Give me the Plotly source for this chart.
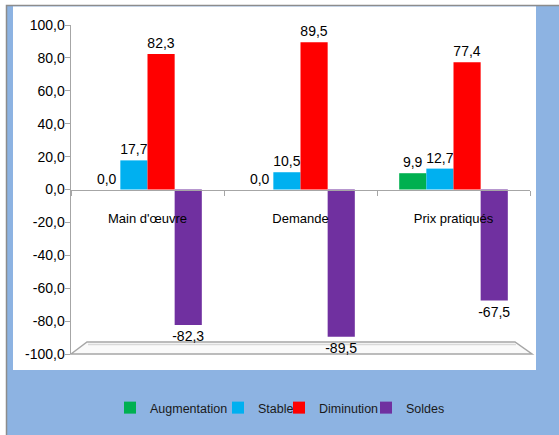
import plotly.graph_objects as go

categories = ["Main d'œuvre", "Demande", "Prix pratiqués"]
series_names = ["Augmentation", "Stable", "Diminution", "Soldes"]
augmentation = [0.0, 0.0, 9.9]
stable = [17.7, 10.5, 12.7]
diminution = [82.3, 89.5, 77.4]
soldes = [-82.3, -89.5, -67.5]
series_values = [augmentation, stable, diminution, soldes]
colors = ["#00B050", "#00B0F0", "#FF0000", "#7030A0"]
y_ticks = [-100, -80, -60, -40, -20, 0, 20, 40, 60, 80, 100]
y_tick_labels = ["-100,0", "-80,0", "-60,0", "-40,0", "-20,0", "0,0",
                 "20,0", "40,0", "60,0", "80,0", "100,0"]

FONT = "Liberation Sans, Arial, sans-serif"
W, H = 559, 435
L, R, T, B = 71, 29, 25, 81
pw, ph = W - L - R, H - T - B


def px(x):
    return (x - L) / pw


def py(y):
    return (H - B - y) / ph


def fmt(v):
    return f"{v:.1f}".replace(".", ",")


# legend entry left positions (px) for each series
legend_x = [110, 218, 279, 366]
legend_ids = ["legend", "legend2", "legend3", "legend4"]

fig = go.Figure()
for name, vals, col, lid in zip(series_names, series_values, colors, legend_ids):
    fig.add_trace(go.Bar(
        x=categories, y=vals, name=name,
        marker=dict(color=col, line=dict(width=0)),
        text=[fmt(v) for v in vals], textposition="outside",
        textfont=dict(family=FONT, size=14, color="#000000"),
        constraintext="none", cliponaxis=False,
        legend=lid,
    ))

shapes = [
    dict(type="rect", xref="paper", yref="paper", layer="below",
         x0=px(6.5), x1=px(W + 5), y0=py(H + 5), y1=py(5.5),
         fillcolor="#8DB3E2", line=dict(color="#8C8C8C", width=1.5)),
    dict(type="rect", xref="paper", yref="paper", layer="below",
         x0=px(13), x1=px(536), y0=py(370), y1=py(6.5),
         fillcolor="#FFFFFF", line=dict(width=0)),
    dict(type="path", xref="paper", yref="paper", layer="below",
         path=f"M {px(71)},{py(354)} L {px(87)},{py(342)} L {px(515)},{py(342)} L {px(532)},{py(354)} Z",
         fillcolor="rgba(250,250,250,1)", line=dict(color="#A6A6A6", width=1.5)),
    dict(type="line", xref="paper", yref="paper", layer="below",
         x0=px(88), x1=px(516), y0=py(344.5), y1=py(344.5),
         line=dict(color="#D9D9D9", width=1.5)),
]

legend_common = dict(orientation="h", yanchor="middle", xanchor="left",
                     font=dict(family=FONT, size=12.5, color="#1a1a1a"),
                     bgcolor="rgba(0,0,0,0)", borderwidth=0, itemwidth=30)

layout = dict(
    width=W, height=H,
    margin=dict(l=L, r=R, t=T, b=B, autoexpand=False),
    paper_bgcolor="#FFFFFF", plot_bgcolor="rgba(0,0,0,0)",
    barmode="group", bargap=0.29, bargroupgap=0,
    font=dict(family=FONT, size=13, color="#000000"),
    shapes=shapes,
    showlegend=True,
    xaxis=dict(anchor="free", position=0.5, showline=True, linecolor="#A6A6A6", linewidth=1.5,
               ticks="outside", tickson="boundaries", ticklen=5, tickcolor="#A6A6A6",
               ticklabelstandoff=16, tickfont=dict(family=FONT, size=13, color="#000000"),
               showgrid=False, zeroline=False, fixedrange=True, automargin=False),
    yaxis=dict(range=[-100, 100], tickvals=y_ticks, ticktext=y_tick_labels,
               showline=True, linecolor="#A6A6A6", linewidth=1.5,
               ticks="outside", ticklen=5, tickcolor="#A6A6A6", ticklabelstandoff=-3,
               tickfont=dict(family=FONT, size=14, color="#000000"),
               showgrid=False, zeroline=False, fixedrange=True, automargin=False),
)
for lid, lx in zip(legend_ids, legend_x):
    layout[lid] = dict(legend_common, x=px(lx), y=py(408))

fig.update_layout(**layout)
fig.write_html(
    "out.html",
    config={"displayModeBar": False, "staticPlot": True},
    post_script="document.body.style.margin='0';document.body.style.overflow='hidden';",
)
